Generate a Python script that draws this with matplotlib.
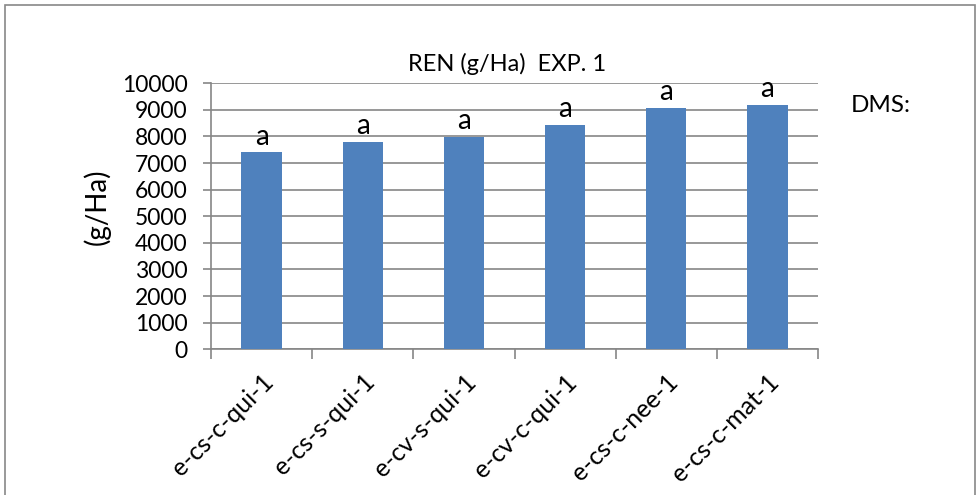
import matplotlib
matplotlib.use("Agg")
import matplotlib.pyplot as plt
from matplotlib.patches import Rectangle
from matplotlib.transforms import ScaledTranslation

plt.rcParams["font.family"] = ["Lato", "DejaVu Sans"]

# rendimiento por tratamiento, experimento 1
tratamientos = ["e-cs-c-qui-1", "e-cs-s-qui-1", "e-cv-s-qui-1",
                "e-cv-c-qui-1", "e-cs-c-nee-1", "e-cs-c-mat-1"]
rendimiento = [7400, 7800, 7980, 8450, 9090, 9180]
letras = ["a", "a", "a", "a", "a", "a"]
yticks = list(range(0, 10001, 1000))

BAR_COLOR = "#4f81bd"
GRID_COLOR = "#868686"

fig = plt.figure(figsize=(9.79, 4.95), dpi=100)
fig.patches.append(Rectangle((5 / 979, -0.1), 970 / 979, 1.1 - 5 / 495,
                             transform=fig.transFigure, fill=False,
                             edgecolor="#888888", linewidth=1.2))

ax = fig.add_axes([211 / 979, 1 - 349.3 / 495, 607 / 979, 266 / 495])
x = list(range(len(tratamientos)))
bars = ax.bar(x, rendimiento, width=0.4, color=BAR_COLOR, zorder=3)

for rect, letra in zip(bars, letras):
    ax.annotate(letra, (rect.get_x() + rect.get_width() / 2, rect.get_height()),
                xytext=(0, 2), textcoords="offset points",
                ha="center", va="bottom", fontsize=20)

ax.set_xlim(-0.5, len(tratamientos) - 0.5)
ax.set_ylim(0, 10000)
ax.set_yticks(yticks)
ax.set_yticklabels([str(v) for v in yticks], fontsize=16.5)
ax.yaxis.grid(True, color=GRID_COLOR, linewidth=1.2, zorder=0)

ax.set_xticks([i - 0.5 for i in range(len(tratamientos) + 1)], minor=False)
ax.set_xticklabels([])
ax.set_xticks(x, minor=True)
ax.set_xticklabels(tratamientos, minor=True, rotation=45, ha="right",
                   rotation_mode="anchor", fontsize=18)
shift = ScaledTranslation(-2 / 100, 0, fig.dpi_scale_trans)
for lbl in ax.get_xticklabels(minor=True):
    lbl.set_transform(lbl.get_transform() + shift)
ax.tick_params(axis="x", which="minor", length=0, pad=15)
ax.tick_params(axis="x", which="major", length=7, color=GRID_COLOR, width=1.2)
ax.tick_params(axis="y", length=6, color=GRID_COLOR, width=1.2, pad=11)

for side in ["top", "right"]:
    ax.spines[side].set_visible(False)
for side in ["left", "bottom"]:
    ax.spines[side].set_color(GRID_COLOR)
    ax.spines[side].set_linewidth(1.2)

fig.text(97 / 979, 1 - 207 / 495, "(g/Ha)", fontsize=20, rotation=90,
         ha="center", va="center")
fig.text(507 / 979, 1 - 64 / 495, "REN (g/Ha)  EXP. 1", fontsize=17,
         ha="center", va="center")
fig.text(851 / 979, 1 - 106 / 495, "DMS:", fontsize=17.5, va="center", ha="left")

fig.savefig("out.png", dpi=100)
